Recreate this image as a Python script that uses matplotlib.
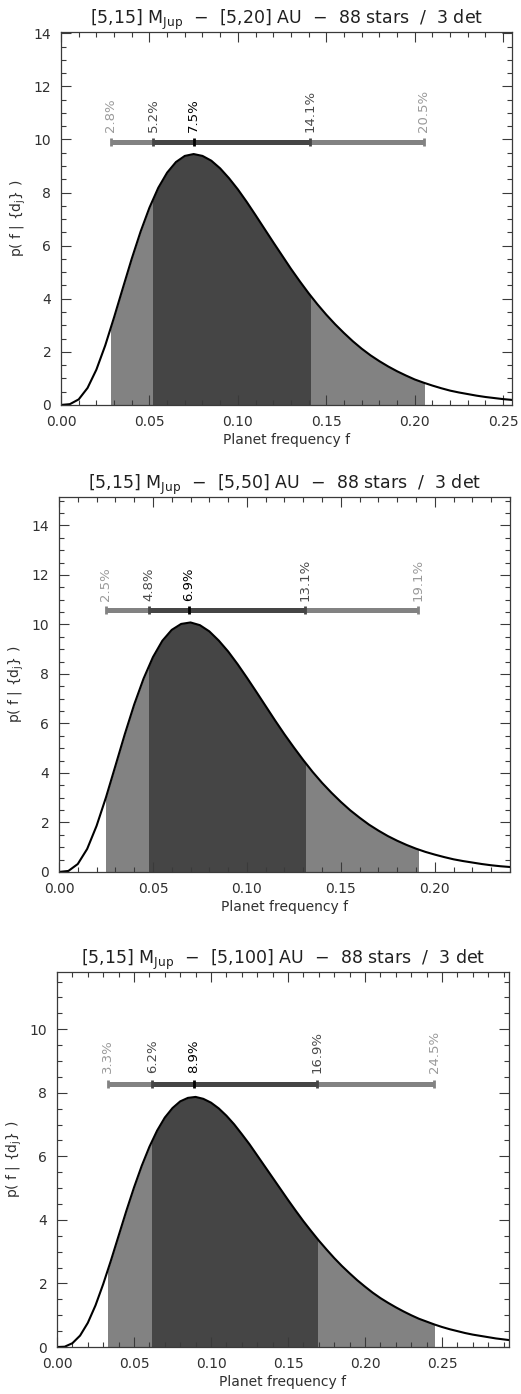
import matplotlib.pyplot as plt
import numpy as np
from matplotlib.patches import Rectangle
from matplotlib.ticker import MultipleLocator

# posterior p(f | {dj}), sampled every 0.005 in planet frequency f
step = 0.005
p_20au = [0, 0.03, 0.21, 0.64, 1.33, 2.24, 3.30, 4.41, 5.51, 6.53,
          7.43, 8.18, 8.75, 9.15, 9.38, 9.45, 9.38, 9.20, 8.91, 8.54,
          8.12, 7.65, 7.15, 6.64, 6.13, 5.63, 5.13, 4.66, 4.21, 3.79,
          3.40, 3.04, 2.71, 2.40, 2.12, 1.87, 1.65, 1.45, 1.27, 1.11,
          0.96, 0.84, 0.73, 0.63, 0.54, 0.47, 0.41, 0.35, 0.30, 0.26,
          0.22, 0.19]
p_50au = [0, 0.04, 0.32, 0.93, 1.86, 3.01, 4.28, 5.56, 6.76, 7.81,
          8.68, 9.34, 9.78, 10.02, 10.08, 9.97, 9.72, 9.35, 8.91, 8.40,
          7.85, 7.28, 6.70, 6.12, 5.56, 5.03, 4.52, 4.04, 3.60, 3.20,
          2.83, 2.49, 2.19, 1.91, 1.67, 1.45, 1.26, 1.09, 0.94, 0.81,
          0.70, 0.60, 0.51, 0.44, 0.38, 0.32, 0.27, 0.23, 0.20]
p_100au = [0, 0.01, 0.12, 0.36, 0.76, 1.31, 1.98, 2.72, 3.50, 4.28,
           5.02, 5.70, 6.30, 6.81, 7.22, 7.52, 7.73, 7.84, 7.87, 7.81,
           7.69, 7.51, 7.28, 7.01, 6.70, 6.38, 6.03, 5.68, 5.33, 4.98,
           4.63, 4.29, 3.96, 3.65, 3.35, 3.07, 2.80, 2.55, 2.32, 2.10,
           1.90, 1.71, 1.54, 1.39, 1.25, 1.12, 1.00, 0.89, 0.80, 0.71,
           0.63, 0.56, 0.50, 0.44, 0.39, 0.35, 0.31, 0.27, 0.24, 0.21]

# limits in %: 95% low, 68% low, mode, 68% high, 95% high
lim_20au = [2.8, 5.2, 7.5, 14.1, 20.5]
lim_50au = [2.5, 4.8, 6.9, 13.1, 19.1]
lim_100au = [3.3, 6.2, 8.9, 16.9, 24.5]

sep_ranges = ['[5,20]', '[5,50]', '[5,100]']
x_max = [0.255, 0.24, 0.2935]
y_max = [14.05, 15.15, 11.8]

curves = [p_20au, p_50au, p_100au]
limits = [lim_20au, lim_50au, lim_100au]

# axes boxes [left, bottom, width, height] in figure fraction
boxes = [[0.1171, 0.7095, 0.8656, 0.2676],
         [0.1132, 0.3745, 0.8657, 0.2690],
         [0.1094, 0.0337, 0.8676, 0.2690]]

light = '#828282'
dark = '#454545'
axcol = '#3a3a3a'
txtcol = '#303030'

fig = plt.figure(figsize=(5.21, 13.94), dpi=100)

for k in range(3):
    ax = fig.add_axes(boxes[k])
    dens = np.array(curves[k])
    f = np.arange(len(dens)) * step
    lo95, lo68, mode, hi68, hi95 = [v / 100 for v in limits[k]]
    ymax = y_max[k]

    # shaded credible intervals under the curve
    for a, b, c in [(lo95, hi95, light), (lo68, hi68, dark)]:
        poly = ax.fill_between(f, dens, 0, color=c, linewidth=0)
        poly.set_clip_path(Rectangle((a, 0), b - a, ymax, transform=ax.transData))
    ax.plot(f, dens, color='black', linewidth=1.5)

    # horizontal summary bar above the peak
    ybar = 1.05 * dens.max()
    ax.plot([lo95, hi95], [ybar, ybar], color=light, linewidth=3.6, solid_capstyle='butt')
    ax.plot([lo68, hi68], [ybar, ybar], color=dark, linewidth=3.6, solid_capstyle='butt')
    marks = [(lo95, light, '#9a9a9a'), (lo68, dark, '#4a4a4a'), (mode, 'black', 'black'),
             (hi68, dark, '#4a4a4a'), (hi95, light, '#9a9a9a')]
    for (x, c, tc), pct in zip(marks, limits[k]):
        ax.plot([x], [ybar], marker='|', markersize=5.5, markeredgewidth=2.0, color=c)
        ax.text(x, ybar + 0.35, f'{pct:.1f}%', rotation=90, ha='center', va='bottom',
                fontsize=9.5, color=tc)

    ax.set_xlim(0, x_max[k])
    ax.set_ylim(0, ymax)
    ax.xaxis.set_major_locator(MultipleLocator(0.05))
    ax.xaxis.set_minor_locator(MultipleLocator(0.01))
    ax.yaxis.set_major_locator(MultipleLocator(2))
    ax.yaxis.set_minor_locator(MultipleLocator(0.5))
    ax.xaxis.set_major_formatter(plt.FormatStrFormatter('%.2f'))
    ax.tick_params(which='both', direction='in', top=True, right=True,
                   color=axcol, labelcolor=txtcol, labelsize=10, width=0.8)
    ax.tick_params(which='major', length=7, pad=7)
    ax.tick_params(which='minor', length=3.5)
    for s in ax.spines.values():
        s.set_color(axcol)
        s.set_linewidth(0.9)

    ax.set_xlabel('Planet frequency f', fontsize=10, color=txtcol, labelpad=3)
    ax.set_ylabel(r'p( f | {d$_\mathregular{j}$} )', fontsize=10, color=txtcol, labelpad=4)
    ax.set_title(r'[5,15] M$_\mathregular{Jup}$  $-$  ' + sep_ranges[k]
                 + r' AU  $-$  88 stars  /  3 det', fontsize=12.5, pad=4, color='#202020')

fig.savefig('out.png', dpi=100)
